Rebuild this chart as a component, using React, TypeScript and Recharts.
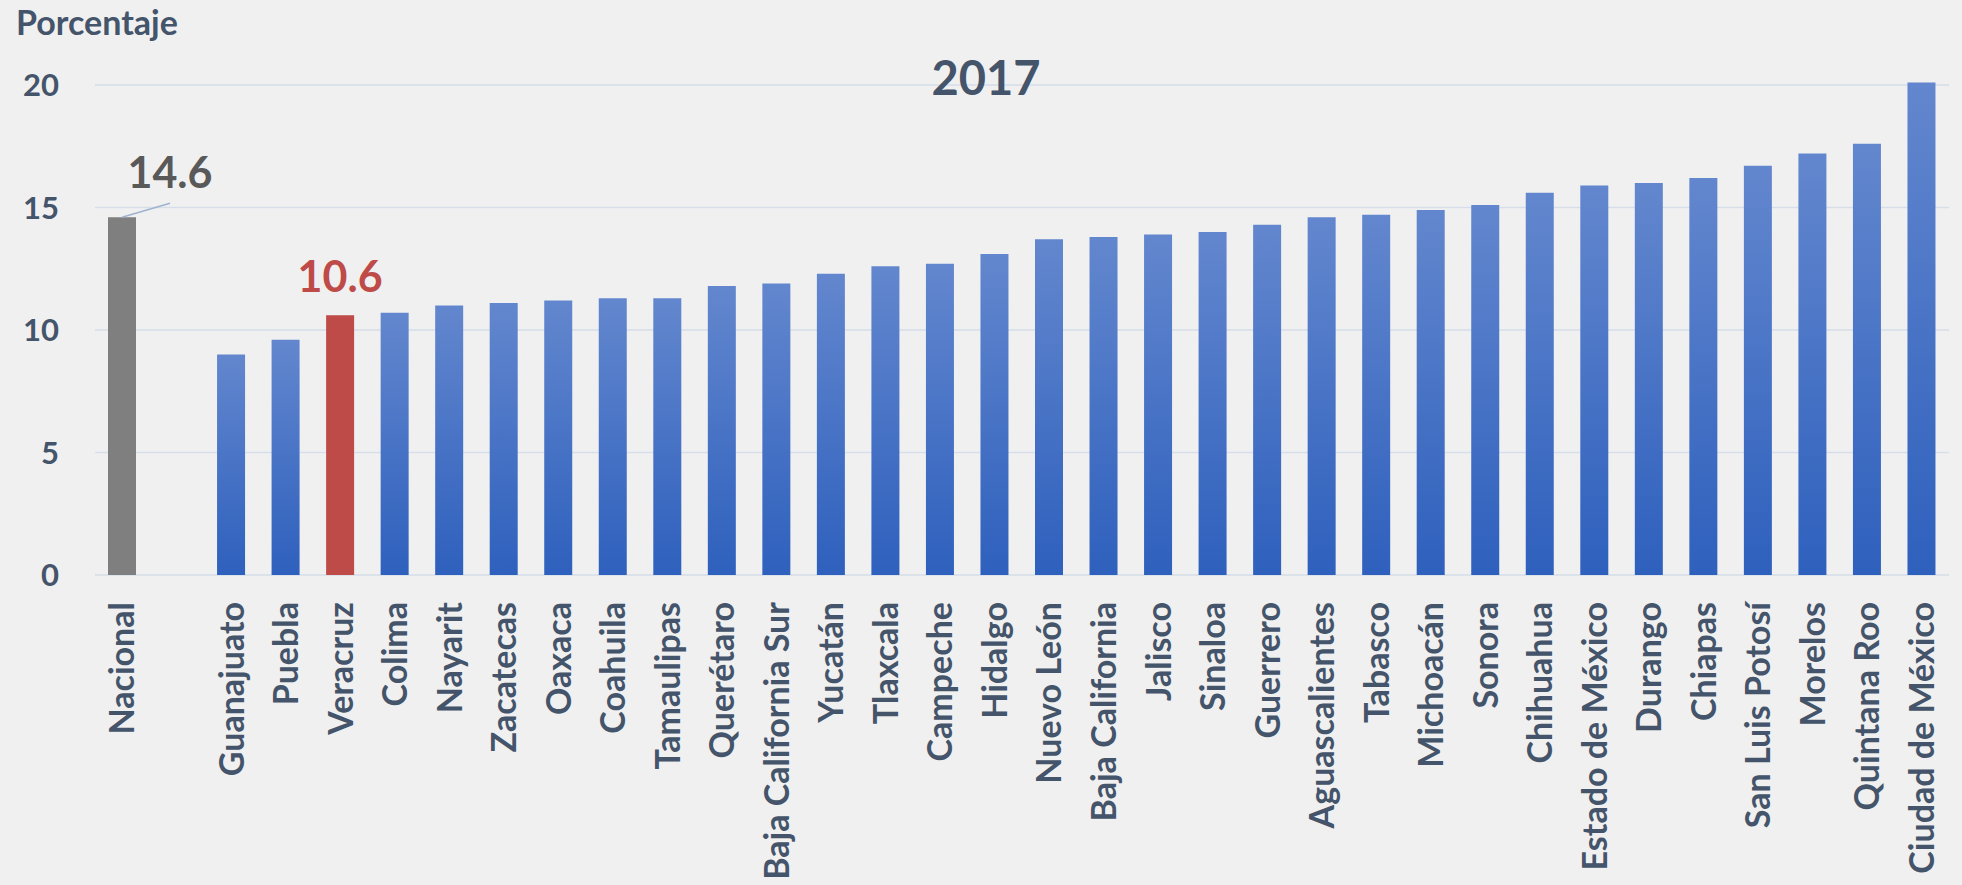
import React from 'react';
import { BarChart, Bar, Cell, XAxis, YAxis, CartesianGrid, LabelList } from 'recharts';

/** Categorías: nacional, hueco y estados */
const NATIONAL_LABEL = 'Nacional';
const NATIONAL_VALUE = 14.6;
const STATES = [
  'Guanajuato', 'Puebla', 'Veracruz', 'Colima', 'Nayarit', 'Zacatecas', 'Oaxaca', 'Coahuila',
  'Tamaulipas', 'Querétaro', 'Baja California Sur', 'Yucatán', 'Tlaxcala', 'Campeche', 'Hidalgo',
  'Nuevo León', 'Baja California', 'Jalisco', 'Sinaloa', 'Guerrero', 'Aguascalientes', 'Tabasco',
  'Michoacán', 'Sonora', 'Chihuahua', 'Estado de México', 'Durango', 'Chiapas', 'San Luis Potosí',
  'Morelos', 'Quintana Roo', 'Ciudad de México',
];
const STATE_VALUES = [
  9.0, 9.6, 10.6, 10.7, 11.0, 11.1, 11.2, 11.3,
  11.3, 11.8, 11.9, 12.3, 12.6, 12.7, 13.1,
  13.7, 13.8, 13.9, 14.0, 14.3, 14.6, 14.7,
  14.9, 15.1, 15.6, 15.9, 16.0, 16.2, 16.7,
  17.2, 17.6, 20.1,
];
const Y_TICKS = [0, 5, 10, 15, 20];
const HIGHLIGHT = 'Veracruz';
const TITLE = '2017';
const Y_TITLE = 'Porcentaje';

// el hueco entre Nacional y los estados es una categoría vacía
const data = [
  { name: NATIONAL_LABEL, value: NATIONAL_VALUE },
  { name: ' ', value: null },
  ...STATES.map((name, i) => ({ name, value: STATE_VALUES[i] })),
];

const FONT = 'Lato, "Open Sans", sans-serif';
const TEXT = '#44546a';
const GRAY = '#7f7f7f';
const RED = '#be4b48';

function XTick(props: any) {
  const { x, y, payload } = props;
  return (
    <text
      transform={`rotate(-90, ${x}, ${y + 27})`}
      x={x}
      y={y + 27}
      dy="0.36em"
      textAnchor="end"
      fill={TEXT}
      fontFamily={FONT}
      fontWeight={700}
      fontSize={34}
    >
      {payload.value}
    </text>
  );
}

function YTick(props: any) {
  const { y, payload } = props;
  return (
    <text x={59} y={y} dy="0.36em" textAnchor="end" fill={TEXT} fontFamily={FONT} fontWeight={700} fontSize={31}>
      {payload.value}
    </text>
  );
}

/** Etiqueta de valor solo para Nacional (con línea guía) y el estado resaltado */
function NameValueLabel(props: any) {
  const { x, y, width, value: name } = props;
  const row = data.find((d) => d.name === name);
  if (!row || row.value == null) return null;
  const cx = x + width / 2;
  if (name === NATIONAL_LABEL) {
    return (
      <g>
        <line x1={cx} y1={y} x2={cx + 48} y2={y - 14} stroke="#9fb3cf" strokeWidth={1.5} />
        <text x={cx + 48} y={y - 29} textAnchor="middle" fill="#595959" fontFamily={FONT} fontWeight={700} fontSize={43}>
          {row.value.toFixed(1)}
        </text>
      </g>
    );
  }
  if (name === HIGHLIGHT) {
    return (
      <text x={cx} y={y - 23} textAnchor="middle" fill={RED} fontFamily={FONT} fontWeight={700} fontSize={43}>
        {row.value.toFixed(1)}
      </text>
    );
  }
  return null;
}

export default function App() {
  return (
    <div style={{ position: 'absolute', left: 0, top: 0, width: 1962, height: 885, background: '#f0f0f0' }}>
      <BarChart width={1962} height={885} data={data} margin={{ top: 36, right: 13, left: 0, bottom: 0 }} barSize={28}>
        <defs>
          <linearGradient id="blueGrad" x1="0" y1="0" x2="0" y2="1">
            <stop offset="0%" stopColor="#6387ce" />
            <stop offset="100%" stopColor="#2e60bd" />
          </linearGradient>
        </defs>
        <CartesianGrid vertical={false} stroke="#d6dee9" strokeWidth={1.5} syncWithTicks />
        <XAxis dataKey="name" interval={0} tickLine={false} axisLine={false} tickSize={0} tickMargin={0} height={310} tick={<XTick />} />
        <YAxis domain={[0, 22]} ticks={Y_TICKS} width={95} tickLine={false} axisLine={false} tick={<YTick />} />
        <Bar dataKey="value" isAnimationActive={false}>
          {data.map((d, i) => (
            <Cell key={i} fill={d.name === NATIONAL_LABEL ? GRAY : d.name === HIGHLIGHT ? RED : 'url(#blueGrad)'} />
          ))}
          <LabelList dataKey="name" content={<NameValueLabel />} />
        </Bar>
        <text x={16} y={35} fill={TEXT} fontFamily={FONT} fontWeight={700} fontSize={34}>{Y_TITLE}</text>
        <text x={986} y={95} textAnchor="middle" fill={TEXT} fontFamily={FONT} fontWeight={700} fontSize={47}>{TITLE}</text>
      </BarChart>
    </div>
  );
}
